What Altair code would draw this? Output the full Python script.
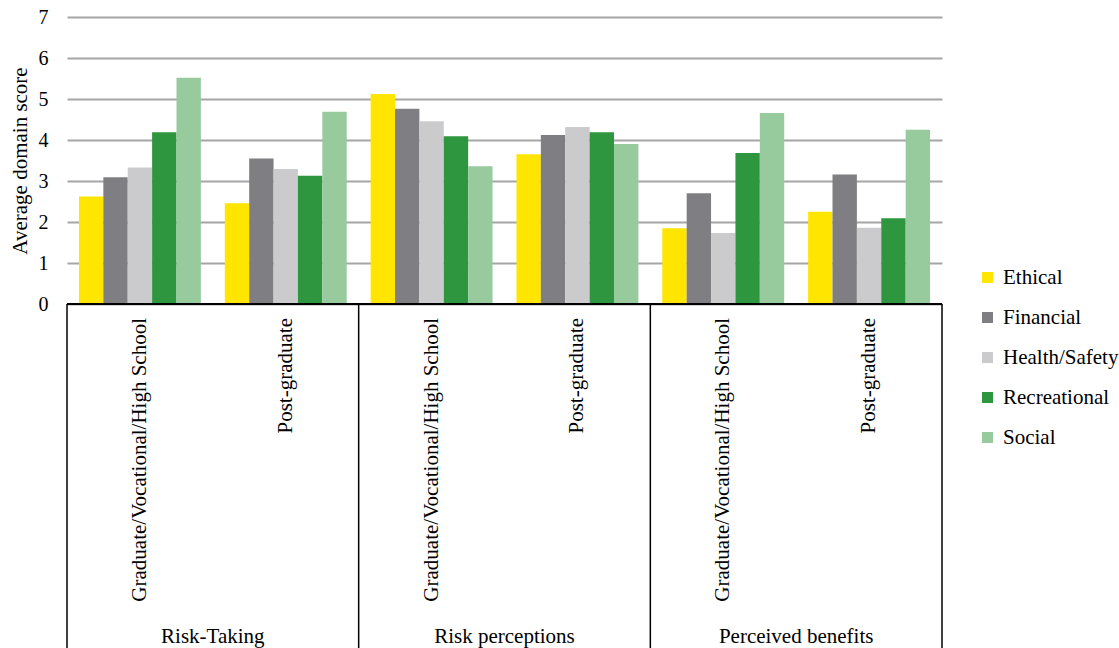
import altair as alt
import pandas as pd

# Survey means per risk domain, by measure and education level
measures = ["Risk-Taking", "Risk perceptions", "Perceived benefits"]
education = ["Graduate/Vocational/High School", "Post-graduate"]
domains = ["Ethical", "Financial", "Health/Safety", "Recreational", "Social"]
colors = ["#FFE500", "#7F7F83", "#CBCBCD", "#2E963E", "#97CA9D"]

ethical = [2.62, 2.46, 5.12, 3.65, 1.85, 2.25]
financial = [3.09, 3.55, 4.76, 4.12, 2.70, 3.16]
health_safety = [3.33, 3.29, 4.46, 4.32, 1.73, 1.86]
recreational = [4.19, 3.13, 4.09, 4.19, 3.68, 2.09]
social = [5.52, 4.69, 3.36, 3.90, 4.66, 4.25]

series = [ethical, financial, health_safety, recreational, social]
slots = [f"{m} | {e}" for m in measures for e in education]

rows = []
for dom, vals in zip(domains, series):
    for slot, v in zip(slots, vals):
        rows.append({"slot": slot, "domain": dom, "score": v})
bars_df = pd.DataFrame(rows)

FONT = "Liberation Serif"

bars = alt.Chart(bars_df).mark_bar().encode(
    x=alt.X("slot:N", sort=slots, axis=None,
            scale=alt.Scale(paddingInner=0.164, paddingOuter=0.082)),
    xOffset=alt.XOffset("domain:N", sort=domains,
                        scale=alt.Scale(paddingInner=0, paddingOuter=0)),
    y=alt.Y("score:Q", scale=alt.Scale(domain=[0, 7], nice=False),
            axis=alt.Axis(values=list(range(8)), grid=True, gridColor="#A6A6A6",
                          gridWidth=2, domain=False, ticks=False,
                          labelFont=FONT, labelFontSize=20, labelColor="black",
                          labelPadding=19, title="Average domain score",
                          titleFont=FONT, titleFontSize=21, titleFontWeight="normal",
                          titleColor="black", titlePadding=8)),
    color=alt.Color("domain:N", sort=domains,
                    scale=alt.Scale(domain=domains, range=colors),
                    legend=alt.Legend(title=None, orient="none", legendX=910, legendY=250,
                                      symbolType="square", symbolSize=121,
                                      symbolStrokeWidth=0,
                                      labelFont=FONT, labelFontSize=21,
                                      labelColor="black", labelOffset=5,
                                      rowPadding=18)),
).properties(width=875, height=287)

# Category table beneath the bars
sub_df = pd.DataFrame({
    "pos": [i + 0.5 for i in range(len(slots))],
    "label": [e for _ in measures for e in education],
})
main_df = pd.DataFrame({
    "pos": [2 * i + 1 for i in range(len(measures))],
    "label": measures,
})
sep_df = pd.DataFrame({"pos": [0, 2, 4, 6]})
edge_df = pd.DataFrame({"start": [0], "end": [6]})

xq = alt.Scale(domain=[0, 6], nice=False, zero=False)

separators = alt.Chart(sep_df).mark_rule(color="black", strokeWidth=1.5).encode(
    x=alt.X("pos:Q", scale=xq, axis=None),
    y=alt.value(0), y2=alt.value(345),
)
baseline = alt.Chart(edge_df).mark_rule(color="black", strokeWidth=2).encode(
    x=alt.X("start:Q", scale=xq, axis=None), x2="end:Q", y=alt.value(0),
)
sub_text = alt.Chart(sub_df).mark_text(
    angle=270, align="right", baseline="middle", font=FONT, fontSize=21, color="black"
).encode(
    x=alt.X("pos:Q", scale=xq, axis=None),
    y=alt.value(14),
    text="label:N",
)
main_text = alt.Chart(main_df).mark_text(
    align="center", baseline="middle", font=FONT, fontSize=21, color="black"
).encode(
    x=alt.X("pos:Q", scale=xq, axis=None),
    y=alt.value(333),
    text="label:N",
)
table = alt.layer(separators, baseline, sub_text, main_text).properties(width=875, height=344)

chart = alt.vconcat(bars, table, spacing=0, bounds="flush").resolve_scale(
    x="independent"
).properties(
    padding={"left": 9, "top": 7, "right": 0, "bottom": 0},
    background="white",
).configure(
    font=FONT
).configure_axis(
    labelFont=FONT, titleFont=FONT
).configure_legend(
    labelFont=FONT
).configure_view(stroke=None)

chart.save("out.html", embed_options={"renderer": "svg", "actions": False})
